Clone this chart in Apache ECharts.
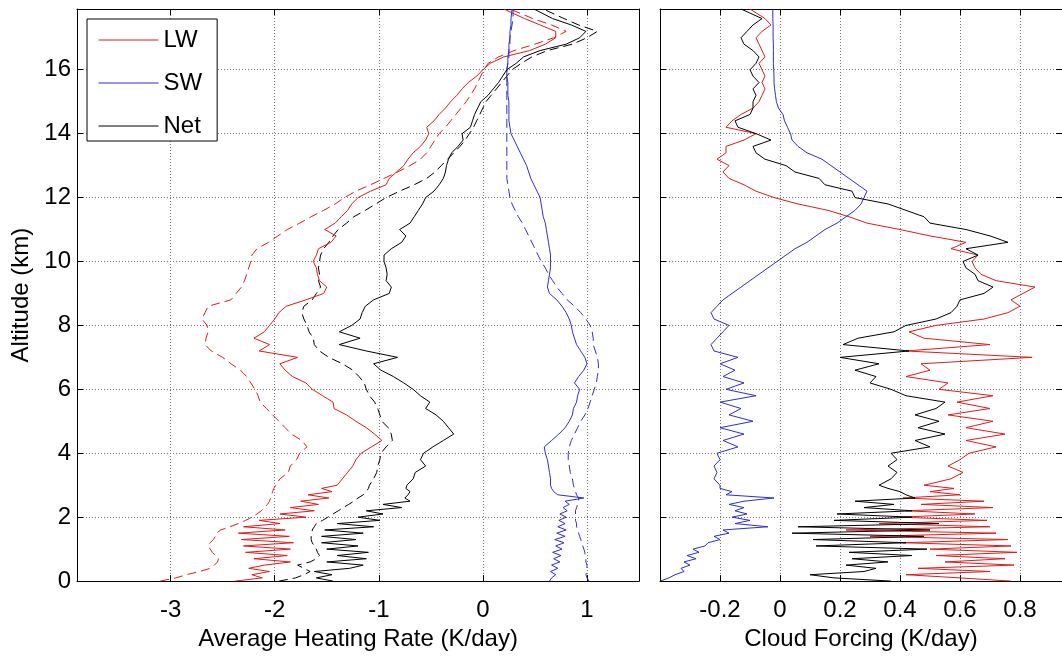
<!DOCTYPE html>
<html>
<head>
<meta charset="utf-8">
<script src="https://cdn.jsdelivr.net/npm/echarts@6/dist/echarts.min.js"></script>
<style>
  html, body { margin: 0; padding: 0; background: #fff; }
  #main { width: 1062px; height: 656px; }
</style>
</head>
<body>
<div id="main"></div>
<script type="text/javascript">
    // altitude levels (km), shared by every profile below
    var altitude = [
        0, 0.1, 0.2, 0.3, 0.4, 0.5, 0.6, 0.7, 0.8, 0.9,
        1.0, 1.1, 1.2, 1.3, 1.4, 1.5, 1.6, 1.7, 1.8, 1.9,
        2.0, 2.1, 2.2, 2.3, 2.4, 2.5, 2.6, 2.7, 2.8, 2.9,
        3.0, 3.2, 3.4, 3.6, 3.8, 4.0, 4.2, 4.4, 4.6, 4.8,
        5.0, 5.2, 5.4, 5.6, 5.8, 6.0, 6.2, 6.4, 6.6, 6.8,
        7.0, 7.2, 7.4, 7.6, 7.8, 8.0, 8.2, 8.4, 8.6, 8.8,
        9.0, 9.2, 9.4, 9.6, 9.8, 10.0, 10.2, 10.4, 10.6, 10.8,
        11.0, 11.2, 11.4, 11.6, 11.8, 12.0, 12.2, 12.4, 12.6, 12.8,
        13.0, 13.2, 13.4, 13.6, 13.8, 14.0, 14.2, 14.4, 14.6, 14.8,
        15.0, 15.2, 15.4, 15.6, 15.8, 16.0, 16.2, 16.4, 16.6, 16.8,
        17.0, 17.2, 17.4, 17.6, 17.9
    ];

    // average heating rate (K/day), solid = all-sky, dashed = second case
    var lwSolid = [
        -2.38, -2.12, -2.22, -2.05, -2.25, -2.10, -1.85, -2.20, -1.88, -2.28,
        -1.85, -2.30, -1.82, -2.32, -1.86, -2.35, -1.90, -2.30, -1.95, -2.15,
        -1.70, -1.95, -1.62, -1.85, -1.58, -1.75, -1.48, -1.68, -1.45, -1.55,
        -1.40, -1.35, -1.30, -1.25, -1.22, -1.17, -1.07, -0.97, -1.04, -1.12,
        -1.22, -1.31, -1.43, -1.44, -1.54, -1.64, -1.70, -1.83, -1.90, -1.95,
        -1.78, -2.15, -2.05, -2.20, -2.10, -2.05, -2.00, -1.96, -1.89, -1.70,
        -1.53, -1.50, -1.57, -1.59, -1.60, -1.63, -1.60, -1.58, -1.46, -1.41,
        -1.52, -1.42, -1.36, -1.30, -1.26, -1.20, -1.08, -0.93, -0.90, -0.83,
        -0.76, -0.72, -0.67, -0.60, -0.55, -0.52, -0.54, -0.47, -0.42, -0.36,
        -0.31, -0.25, -0.20, -0.14, -0.06, 0.00, 0.07, 0.20, 0.45, 0.60,
        0.70, 0.70, 0.55, 0.40, 0.20
    ];
    var lwDash = [
        -3.10, -2.95, -2.85, -2.72, -2.62, -2.58, -2.55, -2.54, -2.57, -2.60,
        -2.62, -2.64, -2.62, -2.59, -2.57, -2.56, -2.52, -2.43, -2.35, -2.28,
        -2.22, -2.17, -2.13, -2.10, -2.07, -2.05, -2.04, -2.03, -2.02, -2.01,
        -1.99, -1.95, -1.87, -1.85, -1.79, -1.76, -1.69, -1.74, -1.84, -1.90,
        -1.96, -2.02, -2.08, -2.14, -2.16, -2.19, -2.23, -2.27, -2.33, -2.42,
        -2.50, -2.61, -2.67, -2.66, -2.64, -2.65, -2.70, -2.67, -2.64, -2.42,
        -2.37, -2.32, -2.29, -2.27, -2.25, -2.23, -2.22, -2.17, -2.06, -1.97,
        -1.88, -1.76, -1.65, -1.53, -1.42, -1.33, -1.22, -1.08, -0.95, -0.82,
        -0.70, -0.60, -0.54, -0.50, -0.46, -0.42, -0.36, -0.31, -0.26, -0.21,
        -0.16, -0.12, -0.08, -0.05, -0.02, 0.01, 0.05, 0.15, 0.30, 0.50,
        0.68, 0.80, 0.66, 0.48, 0.26
    ];
    var swSolid = [
        0.64, 0.66, 0.70, 0.65, 0.72, 0.66, 0.74, 0.68, 0.75, 0.67,
        0.76, 0.70, 0.78, 0.69, 0.79, 0.71, 0.80, 0.72, 0.79, 0.73,
        0.80, 0.74, 0.81, 0.77, 0.83, 0.79, 0.97, 0.72, 0.68, 0.66,
        0.65, 0.65, 0.64, 0.63, 0.62, 0.60, 0.59, 0.66, 0.73, 0.79,
        0.83, 0.86, 0.87, 0.90, 0.91, 0.93, 0.88, 0.92, 0.97, 1.00,
        0.98, 0.94, 0.90, 0.88, 0.86, 0.85, 0.83, 0.80, 0.76, 0.71,
        0.64, 0.62, 0.63, 0.64, 0.65, 0.65, 0.65, 0.64, 0.63, 0.62,
        0.61, 0.60, 0.58, 0.57, 0.56, 0.55, 0.52, 0.49, 0.46, 0.44,
        0.42, 0.39, 0.36, 0.33, 0.30, 0.27, 0.26, 0.25, 0.25, 0.25,
        0.25, 0.24, 0.24, 0.24, 0.23, 0.23, 0.24, 0.24, 0.25, 0.25,
        0.26, 0.26, 0.27, 0.27, 0.28
    ];
    var swDash = [
        1.02, 1.00, 0.99, 1.00, 1.00, 1.00, 0.99, 0.99, 0.98, 0.98,
        0.97, 0.96, 0.95, 0.94, 0.93, 0.92, 0.91, 0.90, 0.90, 0.89,
        0.89, 0.89, 0.89, 0.90, 0.91, 0.92, 0.92, 0.90, 0.89, 0.88,
        0.87, 0.86, 0.84, 0.83, 0.82, 0.82, 0.83, 0.85, 0.88, 0.91,
        0.94, 0.98, 1.01, 1.03, 1.05, 1.07, 1.09, 1.10, 1.11, 1.11,
        1.10, 1.08, 1.06, 1.06, 1.05, 1.03, 0.99, 0.94, 0.88, 0.81,
        0.76, 0.71, 0.67, 0.63, 0.60, 0.56, 0.53, 0.50, 0.47, 0.44,
        0.41, 0.38, 0.34, 0.31, 0.28, 0.26, 0.25, 0.24, 0.23, 0.23,
        0.23, 0.23, 0.23, 0.23, 0.23, 0.23, 0.23, 0.23, 0.23, 0.23,
        0.23, 0.23, 0.23, 0.23, 0.23, 0.23, 0.24, 0.25, 0.25, 0.26,
        0.26, 0.27, 0.28, 0.29, 0.29
    ];
    var netSolid = [
        -1.44, -1.60, -1.45, -1.62, -1.28, -1.15, -1.50, -1.12, -1.40, -1.10,
        -1.50, -1.20, -1.55, -1.22, -1.55, -1.15, -1.52, -1.05, -1.40, -0.99,
        -1.20, -0.96, -1.12, -0.78, -0.96, -0.70, -0.75, -0.72, -0.70, -0.74,
        -0.73, -0.67, -0.65, -0.55, -0.60, -0.57, -0.48, -0.38, -0.28, -0.33,
        -0.38, -0.45, -0.55, -0.51, -0.60, -0.67, -0.76, -0.86, -0.98, -1.05,
        -0.82, -1.12, -1.38, -1.18, -1.38, -1.26, -1.18, -1.16, -1.13, -1.05,
        -0.90, -0.88, -0.93, -0.92, -0.93, -0.95, -0.95, -0.88, -0.78, -0.74,
        -0.80, -0.70, -0.66, -0.62, -0.58, -0.55, -0.47, -0.42, -0.38, -0.36,
        -0.35, -0.33, -0.30, -0.24, -0.19, -0.20, -0.12, -0.10, -0.08, -0.05,
        -0.02, 0.05, 0.10, 0.15, 0.19, 0.23, 0.32, 0.39, 0.55, 0.80,
        0.93, 0.99, 0.85, 0.67, 0.49
    ];
    var netDash = [
        -1.96, -1.80, -1.72, -1.66, -1.72, -1.78, -1.66, -1.60, -1.57, -1.59,
        -1.60, -1.62, -1.64, -1.65, -1.65, -1.64, -1.64, -1.62, -1.60, -1.54,
        -1.49, -1.44, -1.39, -1.34, -1.29, -1.24, -1.20, -1.15, -1.12, -1.10,
        -1.09, -1.05, -1.02, -1.01, -0.99, -0.98, -0.93, -0.87, -0.88, -0.91,
        -0.97, -0.99, -1.01, -1.04, -1.09, -1.12, -1.14, -1.19, -1.25, -1.35,
        -1.48, -1.57, -1.62, -1.63, -1.67, -1.69, -1.72, -1.74, -1.72, -1.64,
        -1.60, -1.56, -1.58, -1.57, -1.58, -1.57, -1.56, -1.53, -1.48, -1.44,
        -1.39, -1.31, -1.24, -1.13, -1.03, -0.93, -0.80, -0.66, -0.54, -0.46,
        -0.40, -0.34, -0.28, -0.22, -0.17, -0.13, -0.09, -0.06, -0.03, 0.00,
        0.03, 0.08, 0.13, 0.18, 0.23, 0.28, 0.37, 0.47, 0.62, 0.86,
        1.00, 1.10, 0.92, 0.78, 0.58
    ];

    // cloud forcing (K/day)
    var cfLw = [
        0.77, 0.60, 0.42, 0.70, 0.46, 0.78, 0.55, 0.75, 0.52, 0.79,
        0.50, 0.77, 0.41, 0.76, 0.30, 0.72, 0.22, 0.70, 0.33, 0.69,
        0.40, 0.65, 0.42, 0.71, 0.47, 0.68, 0.41, 0.60, 0.50, 0.58,
        0.48, 0.57, 0.61, 0.56, 0.60, 0.63, 0.72, 0.62, 0.75, 0.62,
        0.71, 0.56, 0.70, 0.59, 0.71, 0.53, 0.56, 0.42, 0.50, 0.47,
        0.84, 0.42, 0.70, 0.48, 0.43, 0.52, 0.68, 0.76, 0.80, 0.77,
        0.81, 0.85, 0.72, 0.67, 0.65, 0.64, 0.66, 0.57, 0.62, 0.50,
        0.40, 0.29, 0.23, 0.16, 0.06, -0.02, -0.08, -0.12, -0.17, -0.19,
        -0.17, -0.21, -0.18, -0.18, -0.12, -0.08, -0.18, -0.16, -0.13, -0.09,
        -0.07, -0.06, -0.05, -0.06, -0.05, -0.06, -0.07, -0.05, -0.06, -0.07,
        -0.08, -0.06, -0.03, -0.05, -0.10
    ];
    var cfSw = [
        -0.40, -0.37, -0.35, -0.32, -0.33, -0.30, -0.32, -0.28, -0.31, -0.27,
        -0.29, -0.25, -0.24, -0.20, -0.22, -0.17, -0.19, -0.04, -0.15, -0.10,
        -0.16, -0.11, -0.15, -0.12, -0.17, -0.12, -0.02, -0.18, -0.16, -0.20,
        -0.20, -0.22, -0.21, -0.22, -0.20, -0.21, -0.14, -0.19, -0.12, -0.20,
        -0.09, -0.17, -0.13, -0.20, -0.08, -0.18, -0.12, -0.19, -0.15, -0.20,
        -0.14, -0.22, -0.23, -0.21, -0.19, -0.17, -0.22, -0.23, -0.21, -0.19,
        -0.16, -0.13, -0.10, -0.07, -0.04, -0.01, 0.02, 0.05, 0.09, 0.12,
        0.15, 0.19, 0.22, 0.25, 0.27, 0.28, 0.29, 0.26, 0.23, 0.20,
        0.17, 0.14, 0.09, 0.06, 0.04, 0.035, 0.025, 0.015, 0.01, -0.005,
        -0.012, -0.015, -0.018, -0.02, -0.02, -0.021, -0.022, -0.022, -0.022, -0.022,
        -0.023, -0.023, -0.023, -0.024, -0.024
    ];
    var cfNet = [
        0.37, 0.18, 0.10, 0.28, 0.32, 0.22, 0.36, 0.24, 0.44, 0.23,
        0.49, 0.12, 0.42, 0.11, 0.48, 0.04, 0.50, 0.06, 0.53, 0.18,
        0.44, 0.19, 0.44, 0.28, 0.38, 0.25, 0.45, 0.42, 0.40, 0.36,
        0.33, 0.37, 0.39, 0.36, 0.39, 0.37, 0.50, 0.45, 0.55, 0.46,
        0.53, 0.45, 0.52, 0.55, 0.42, 0.37, 0.30, 0.32, 0.25, 0.33,
        0.20, 0.43, 0.21, 0.26, 0.38, 0.42, 0.52, 0.57, 0.59, 0.60,
        0.68, 0.71, 0.66, 0.65, 0.62, 0.61, 0.66, 0.62, 0.76, 0.70,
        0.62, 0.50, 0.48, 0.42, 0.36, 0.25, 0.24, 0.15, 0.13, 0.05,
        0.02, -0.05, -0.08, -0.09, -0.03, -0.08, -0.14, -0.15, -0.10, -0.09,
        -0.09, -0.08, -0.09, -0.07, -0.09, -0.10, -0.08, -0.07, -0.09, -0.12,
        -0.13, -0.11, -0.09, -0.06, -0.13
    ];

    var legendNames = ['LW', 'SW', 'Net'];

    // pair each value with its altitude -> [x, y]
    function profile(values) {
        return values.map(function (v, i) { return [v, altitude[i]]; });
    }

    var myChart = echarts.init(document.getElementById('main'));

    var fontFam = '"Liberation Sans", Arial, Helvetica, sans-serif';
    var red = '#e31b1b', blue = '#2e2ed2', black = '#000000';
    var textStyle = { fontSize: 24, fontFamily: fontFam, color: '#000' };
    var boxLine = { show: true, onZero: false, lineStyle: { color: '#000', width: 1 } };
    var inTick = { show: true, inside: true, length: 6, lineStyle: { color: '#000' } };
    var dotGrid = { show: true, lineStyle: { color: '#7a7a7a', width: 1, type: [1, 2] } };
    var noGrid = { show: false };

    function lineSeries(name, values, color, dashed, panel) {
        return {
            name: name,
            type: 'line',
            xAxisIndex: panel * 2,
            yAxisIndex: panel * 2,
            data: profile(values),
            symbol: 'none',
            color: color,
            lineStyle: { color: color, width: 1, type: dashed ? [9, 5] : 'solid' },
            z: dashed ? 3 : 4
        };
    }

    var option = {
        animation: false,
        backgroundColor: '#fff',
        grid: [
            { left: 77, top: 9, width: 562, height: 573 },
            { left: 660, top: 9, width: 402, height: 573 }
        ],
        legend: {
            data: legendNames,
            orient: 'vertical',
            left: 87,
            top: 19,
            padding: [9, 15, 3, 11],
            itemWidth: 60,
            itemHeight: 22,
            itemGap: 19,
            itemStyle: { opacity: 0 },
            lineStyle: { width: 1 },
            backgroundColor: '#fff',
            borderColor: '#000',
            borderWidth: 1,
            borderRadius: 0,
            textStyle: { fontSize: 24, fontFamily: fontFam, color: '#000' }
        },
        xAxis: [
            {
                gridIndex: 0, type: 'value', position: 'bottom',
                min: -3.9, max: 1.5, splitNumber: 5,
                axisLine: boxLine, axisTick: inTick, splitLine: dotGrid,
                axisLabel: { fontSize: 24, fontFamily: fontFam, color: '#000', margin: 17,
                             showMinLabel: false, showMaxLabel: false },
                name: 'Average Heating Rate (K/day)', nameLocation: 'middle', nameGap: 45,
                nameTextStyle: textStyle
            },
            {
                gridIndex: 0, type: 'value', position: 'top',
                min: -3.9, max: 1.5, splitNumber: 5,
                axisLine: boxLine, axisTick: inTick, splitLine: noGrid,
                axisLabel: { show: false }
            },
            {
                gridIndex: 1, type: 'value', position: 'bottom',
                min: -0.4, max: 0.94, interval: 0.2,
                axisLine: boxLine, axisTick: inTick, splitLine: dotGrid,
                axisLabel: { fontSize: 24, fontFamily: fontFam, color: '#000', margin: 17,
                             showMinLabel: false, showMaxLabel: false },
                name: 'Cloud Forcing (K/day)', nameLocation: 'middle', nameGap: 45,
                nameTextStyle: textStyle
            },
            {
                gridIndex: 1, type: 'value', position: 'top',
                min: -0.4, max: 0.94, interval: 0.2,
                axisLine: boxLine, axisTick: inTick, splitLine: noGrid,
                axisLabel: { show: false }
            }
        ],
        yAxis: [
            {
                gridIndex: 0, type: 'value', position: 'left',
                min: 0, max: 17.9, interval: 2,
                axisLine: boxLine, axisTick: inTick, splitLine: dotGrid,
                axisLabel: { fontSize: 24, fontFamily: fontFam, color: '#000', margin: 6,
                             showMaxLabel: false },
                name: 'Altitude (km)', nameLocation: 'middle', nameGap: 44,
                nameTextStyle: textStyle
            },
            {
                gridIndex: 0, type: 'value', position: 'right',
                min: 0, max: 17.9, interval: 2,
                axisLine: boxLine, axisTick: inTick, splitLine: noGrid,
                axisLabel: { show: false }
            },
            {
                gridIndex: 1, type: 'value', position: 'left',
                min: 0, max: 17.9, interval: 2,
                axisLine: boxLine, axisTick: inTick, splitLine: dotGrid,
                axisLabel: { show: false }
            },
            {
                gridIndex: 1, type: 'value', position: 'right',
                min: 0, max: 17.9, interval: 2,
                axisLine: boxLine, axisTick: inTick, splitLine: noGrid,
                axisLabel: { show: false }
            }
        ],
        series: [
            lineSeries('LW', lwSolid, red, false, 0),
            lineSeries('SW', swSolid, blue, false, 0),
            lineSeries('Net', netSolid, black, false, 0),
            lineSeries('LW dashed', lwDash, red, true, 0),
            lineSeries('SW dashed', swDash, blue, true, 0),
            lineSeries('Net dashed', netDash, black, true, 0),
            lineSeries('LW forcing', cfLw, red, false, 1),
            lineSeries('SW forcing', cfSw, blue, false, 1),
            lineSeries('Net forcing', cfNet, black, false, 1)
        ]
    };

    myChart.setOption(option);
</script>
</body>
</html>
